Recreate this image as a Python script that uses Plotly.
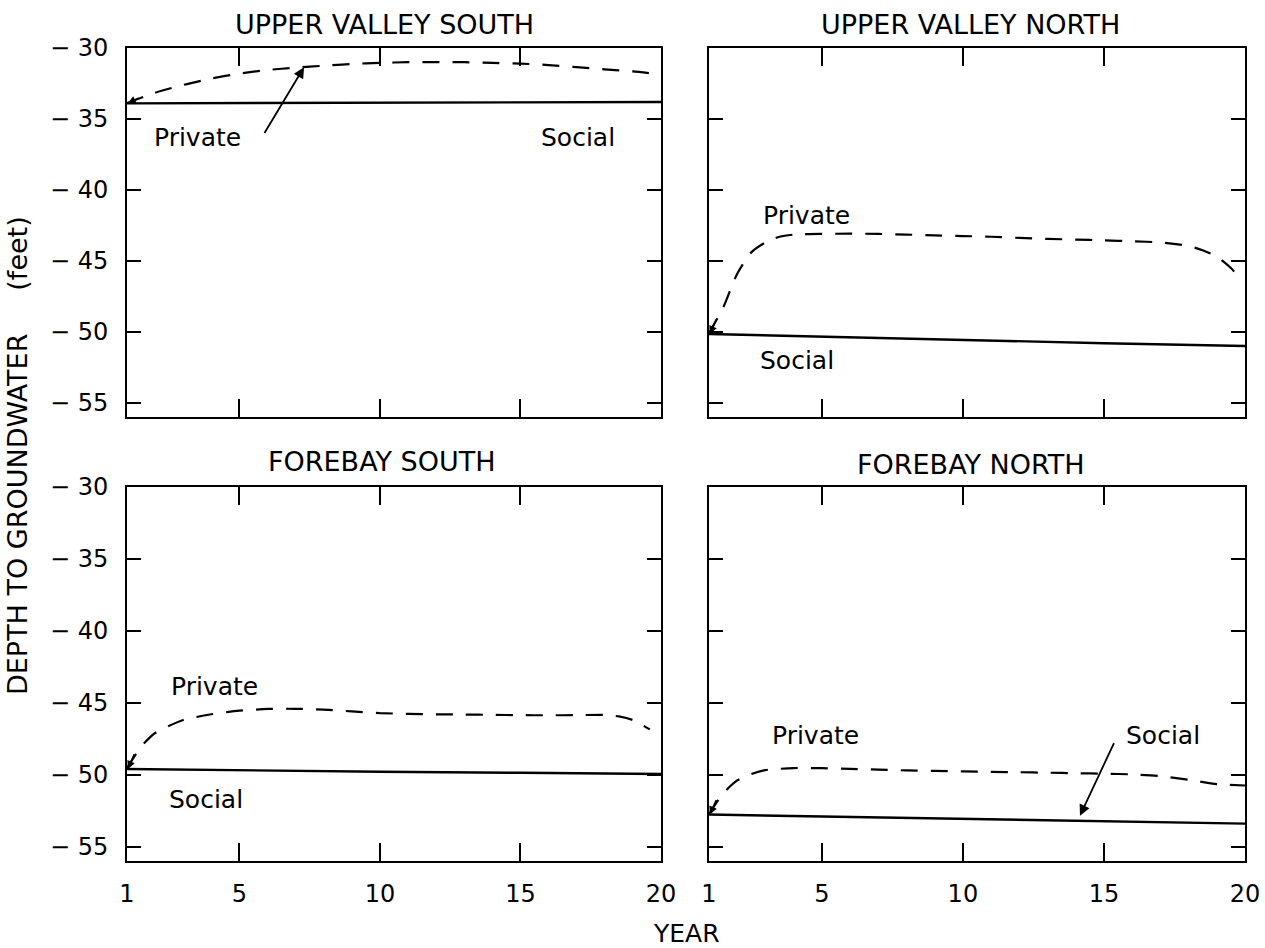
import plotly.graph_objects as go

# ---------------- data ----------------
panel_titles = ["UPPER VALLEY SOUTH", "UPPER VALLEY NORTH", "FOREBAY SOUTH", "FOREBAY NORTH"]

x_tick_vals = [1, 5, 10, 15, 20]
x_tick_text = ["1", "5", "10", "15", "20"]
y_tick_vals = [-30, -35, -40, -45, -50, -55]
y_tick_text = ["\u2212 30", "\u2212 35", "\u2212 40", "\u2212 45", "\u2212 50", "\u2212 55"]

# Upper Valley South
uvs_private_years = [1, 2, 3, 4, 5, 6, 7, 8, 9, 10, 11, 12, 13, 14, 15, 16, 17, 18, 19, 19.7]
uvs_private = [-33.88, -33.15, -32.6, -32.15, -31.8, -31.55, -31.38, -31.25, -31.12, -31.05,
               -31.0, -31.0, -31.0, -31.05, -31.1, -31.2, -31.35, -31.5, -31.65, -31.8]
uvs_social_years = [1, 5, 10, 15, 20]
uvs_social = [-33.9, -33.88, -33.85, -33.83, -33.8]

# Upper Valley North
uvn_private_years = [1, 1.5, 2, 2.5, 3, 3.5, 4, 5, 6, 7, 8, 9, 10, 11, 12, 13, 14, 15, 16, 17,
                     18, 18.5, 19, 19.5, 19.8]
uvn_private = [-50.1, -48.3, -45.9, -44.4, -43.7, -43.3, -43.15, -43.1, -43.08, -43.1, -43.15,
               -43.2, -43.25, -43.3, -43.38, -43.45, -43.5, -43.55, -43.62, -43.7, -43.95,
               -44.25, -44.7, -45.5, -46.2]
uvn_social_years = [1, 5, 10, 15, 20]
uvn_social = [-50.15, -50.35, -50.6, -50.8, -51.0]

# Forebay South
fs_private_years = [1, 1.5, 2, 3, 4, 5, 6, 7, 8, 9, 10, 11, 12, 13, 14, 15, 16, 17, 18, 18.5,
                    19, 19.6]
fs_private = [-49.55, -48.05, -47.1, -46.2, -45.8, -45.55, -45.43, -45.42, -45.48, -45.6,
              -45.72, -45.77, -45.8, -45.82, -45.84, -45.86, -45.87, -45.86, -45.84, -45.95,
              -46.2, -46.85]
fs_social_years = [1, 5, 10, 15, 20]
fs_social = [-49.6, -49.7, -49.8, -49.87, -49.95]

# Forebay North
fn_private_years = [1, 1.5, 2, 2.5, 3, 4, 5, 6, 7, 8, 9, 10, 11, 12, 13, 14, 15, 16, 17, 18,
                    19, 20]
fn_private = [-52.75, -51.3, -50.4, -49.95, -49.68, -49.54, -49.55, -49.6, -49.65, -49.7,
              -49.74, -49.77, -49.8, -49.83, -49.86, -49.9, -49.93, -49.98, -50.1, -50.35,
              -50.65, -50.75]
fn_social_years = [1, 5, 10, 15, 20]
fn_social = [-52.77, -52.9, -53.05, -53.2, -53.4]

# label positions (year, depth)
label_private_pos = [(3.5, -36.3), (4.44, -41.8), (4.13, -43.85), (4.76, -47.3)]
label_social_pos = [(17.05, -36.3), (4.12, -52.0), (3.8, -51.7), (17.1, -47.3)]

# ---------------- figure ----------------
W, H = 1265, 948
FONT = "DejaVu Sans, Verdana, sans-serif"

def px_x(p):
    return p / W

def px_y(p):
    return 1 - p / H

x_domains = [[px_x(127), px_x(661)], [px_x(709), px_x(1245)]]
y_domains = [[px_y(417), px_y(48)], [px_y(861), px_y(487)]]

panels = [
    (uvs_private_years, uvs_private, uvs_social_years, uvs_social),
    (uvn_private_years, uvn_private, uvn_social_years, uvn_social),
    (fs_private_years, fs_private, fs_social_years, fs_social),
    (fn_private_years, fn_private, fn_social_years, fn_social),
]

fig = go.Figure()
layout = dict(
    width=W, height=H, autosize=False,
    margin=dict(l=0, r=0, t=0, b=0, autoexpand=False),
    paper_bgcolor="white", plot_bgcolor="white",
    showlegend=False, hovermode=False,
    font=dict(family=FONT, color="black", size=24),
)

annotations = []
for i, (pyrs, pvals, syrs, svals) in enumerate(panels):
    row, col = divmod(i, 2)
    n = i + 1
    xa = "x" if n == 1 else f"x{n}"
    ya = "y" if n == 1 else f"y{n}"
    fig.add_trace(go.Scatter(x=syrs, y=svals, mode="lines", xaxis=xa, yaxis=ya,
                             line=dict(color="black", width=2.4)))
    fig.add_trace(go.Scatter(x=pyrs, y=pvals, mode="lines", xaxis=xa, yaxis=ya,
                             line=dict(color="black", width=2.2, dash="17px,13px",
                                       shape="spline", smoothing=0.6)))
    layout["xaxis" if n == 1 else f"xaxis{n}"] = dict(
        domain=x_domains[col], anchor=ya, range=[1, 20], automargin=False,
        tickmode="array", tickvals=x_tick_vals, ticktext=x_tick_text,
        ticks="inside", ticklen=18, tickwidth=2, tickcolor="black",
        showline=True, linecolor="black", linewidth=2, mirror="ticks",
        showgrid=False, zeroline=False, fixedrange=True,
        showticklabels=(row == 1), ticklabelstandoff=10,
        tickfont=dict(size=24, family=FONT, color="black"),
    )
    layout["yaxis" if n == 1 else f"yaxis{n}"] = dict(
        domain=y_domains[row], anchor=xa, range=[-56, -30], automargin=False,
        tickmode="array", tickvals=y_tick_vals, ticktext=y_tick_text,
        ticks="inside", ticklen=14, tickwidth=2, tickcolor="black",
        showline=True, linecolor="black", linewidth=2, mirror="ticks",
        showgrid=False, zeroline=False, fixedrange=True,
        showticklabels=(col == 0), ticklabelstandoff=12,
        tickfont=dict(size=24, family=FONT, color="black"),
    )
    # series labels
    for txt, (lx, ly) in (("Private", label_private_pos[i]), ("Social", label_social_pos[i])):
        annotations.append(dict(x=lx, y=ly, xref=xa, yref=ya, text=txt, showarrow=False,
                                font=dict(size=25, family=FONT, color="black")))
    # small arrowhead at the start of the dashed curve (pointing to the social start)
    annotations.append(dict(x=1.03, y=svals[0], xref=xa, yref=ya, text="",
                            showarrow=True, arrowhead=2, arrowsize=1, arrowwidth=1.6,
                            ax=(12 if i == 0 else 7), ay=(-6 if i == 0 else -16),
                            arrowcolor="black", standoff=0))

# leader arrows
annotations.append(dict(x=7.3, y=-31.35, xref="x", yref="y", ax=5.86, ay=-36.1,
                        axref="x", ayref="y", text="", showarrow=True, arrowhead=2,
                        arrowsize=1.2, arrowwidth=1.8, arrowcolor="black", standoff=0))
annotations.append(dict(x=14.15, y=-52.85, xref="x4", yref="y4", ax=15.38, ay=-47.7,
                        axref="x4", ayref="y4", text="", showarrow=True, arrowhead=2,
                        arrowsize=1.2, arrowwidth=1.8, arrowcolor="black", standoff=0))

# panel titles
title_pos = [(384, 24), (970, 25), (382, 462), (971, 465)]
for t, (tx, ty) in zip(panel_titles, title_pos):
    annotations.append(dict(x=px_x(tx), y=px_y(ty), xref="paper", yref="paper", text=t,
                            showarrow=False, xanchor="center", yanchor="middle",
                            font=dict(size=27, family=FONT, color="black")))

# axis titles
annotations.append(dict(x=px_x(686), y=px_y(933), xref="paper", yref="paper", text="YEAR",
                        showarrow=False, xanchor="center", yanchor="middle",
                        font=dict(size=25, family=FONT, color="black")))
annotations.append(dict(x=px_x(17), y=px_y(456), xref="paper", yref="paper",
                        text="DEPTH TO GROUNDWATER\u00a0\u00a0\u00a0\u00a0\u00a0(feet)",
                        textangle=-90, showarrow=False, xanchor="center", yanchor="middle",
                        font=dict(size=27, family=FONT, color="black")))

layout["annotations"] = annotations
fig.update_layout(**layout)
fig.write_html(
    "out.html",
    config={"displayModeBar": False, "staticPlot": True},
    post_script="document.body.style.margin='0';document.body.style.overflow='hidden';",
)
